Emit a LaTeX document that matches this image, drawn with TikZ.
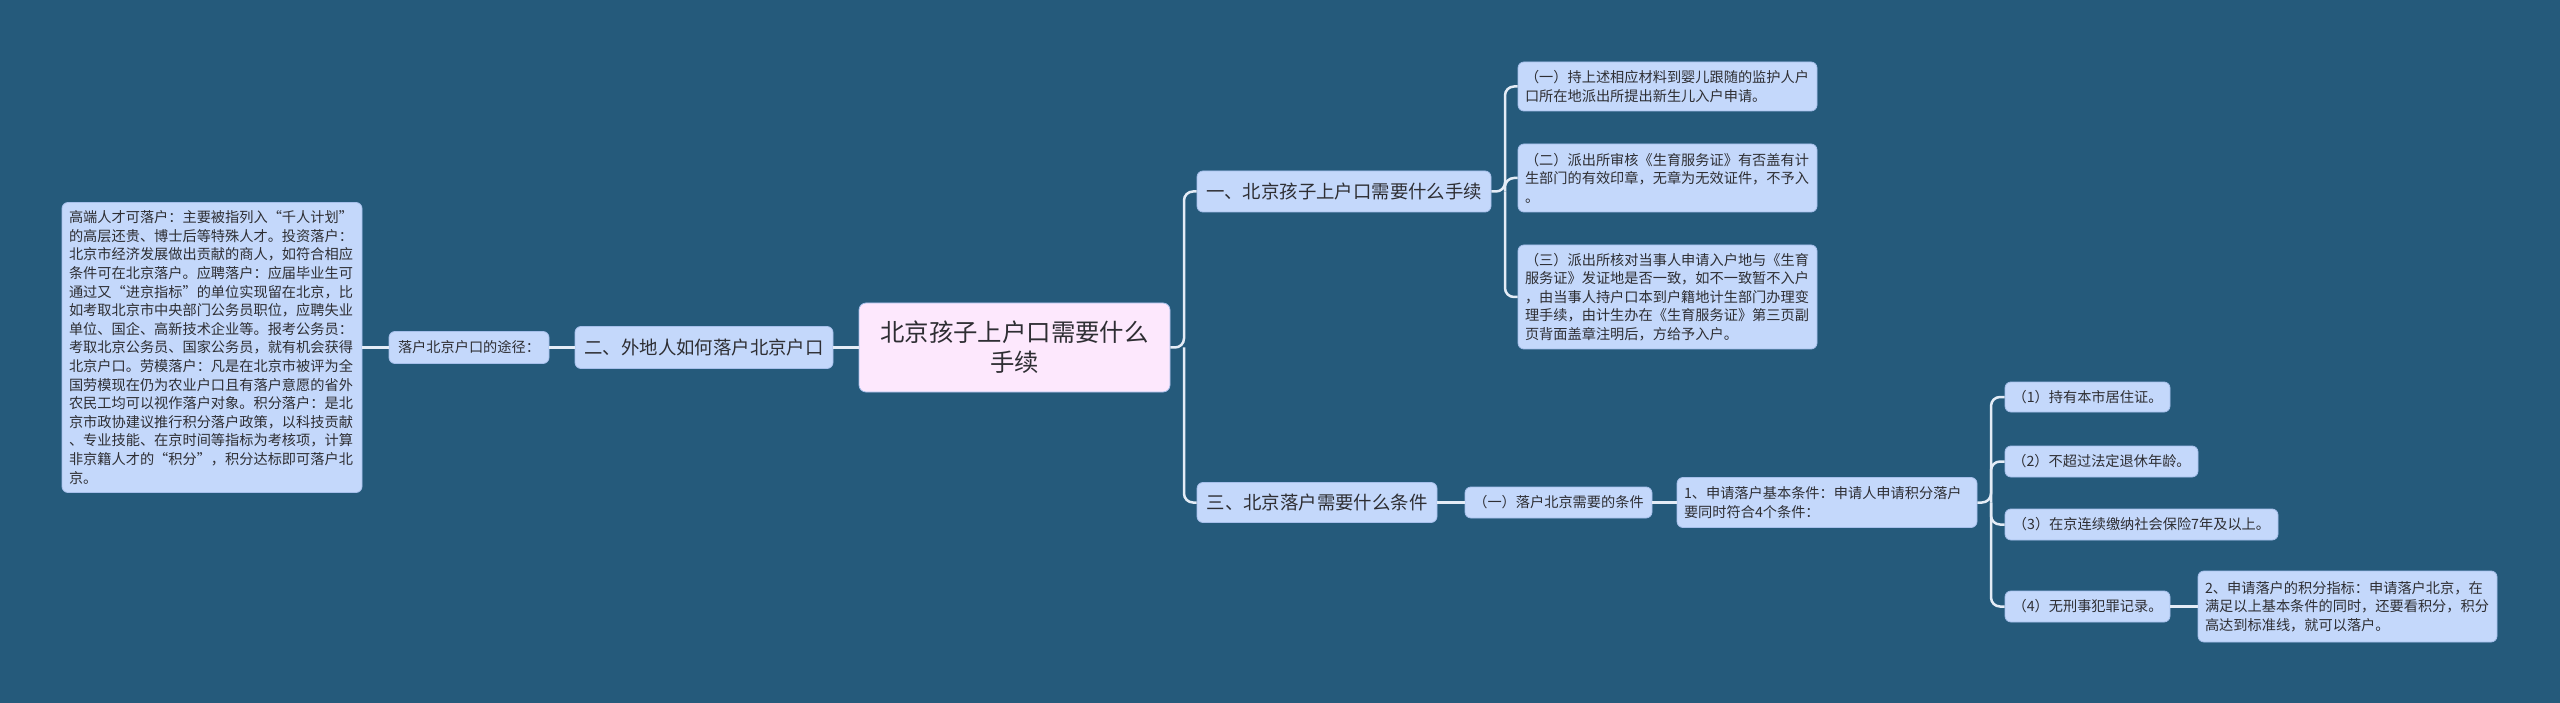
\documentclass[tikz,border=0pt]{standalone}
\usepackage{fontspec}
\setmainfont{Noto Sans CJK SC}
\usepackage{tikz}
\usetikzlibrary{positioning,calc}
\definecolor{canvas}{HTML}{255A7B}
\definecolor{boxblue}{HTML}{C4D8FB}
\definecolor{boxedge}{HTML}{A6BFEA}
\definecolor{rootpink}{HTML}{FDE8FD}
\definecolor{ink}{HTML}{2E2E33}
\definecolor{wire}{HTML}{E4ECF6}
\begin{document}
\begin{tikzpicture}[x=1pt,y=-1pt,
  topic/.style={fill=boxblue,draw=boxedge,line width=0.8pt,rounded corners=6pt,text=ink,inner sep=0pt,
    font=\fontsize{18.4}{22}\selectfont},
  leaf/.style={fill=boxblue,draw=boxedge,line width=0.8pt,rounded corners=6pt,text=ink,inner xsep=7pt,inner ysep=5pt,
    align=left,font=\fontsize{14.2}{18.6}\selectfont},
  link/.style={draw=wire,line width=2.5pt,rounded corners=9pt}]
  \fill[canvas] (0,0) rectangle (2560,703);
  \useasboundingbox (0,0) rectangle (2560,703);
  \node[fill=rootpink,draw=boxedge,line width=0.8pt,rounded corners=7pt,text=ink,align=center,text width=285pt,
    minimum width=311pt,minimum height=89pt,font=\fontsize{24.4}{30}\selectfont] (root) at (1014.5,347.5)
    {北京孩子上户口需要什么\\手续};
  \node[topic,minimum width=258pt,minimum height=42pt] (two) at (704,347.5) {二、外地人如何落户北京户口};
  \node[leaf,minimum width=160pt,minimum height=32pt,align=center] (way) at (469,347.5) {落户北京户口的途径：};
  \node[leaf,text width=286pt,minimum height=290pt] (big) at (212,347.5)
    {高端人才可落户：主要被指列入“千人计划”\\的高层还贵、博士后等特殊人才。投资落户：\\
     北京市经济发展做出贡献的商人，如符合相应\\条件可在北京落户。应聘落户：应届毕业生可\\
     通过又“进京指标”的单位实现留在北京，比\\如考取北京市中央部门公务员职位，应聘失业\\
     单位、国企、高新技术企业等。报考公务员：\\考取北京公务员、国家公务员，就有机会获得\\
     北京户口。劳模落户：凡是在北京市被评为全\\国劳模现在仍为农业户口且有落户意愿的省外\\
     农民工均可以视作落户对象。积分落户：是北\\京市政协建议推行积分落户政策，以科技贡献\\
     、专业技能、在京时间等指标为考核项，计算\\非京籍人才的“积分”，积分达标即可落户北\\京。};
  \node[topic,minimum width=294pt,minimum height=41pt] (one) at (1344,191.5) {一、北京孩子上户口需要什么手续};
  \node[leaf,text width=285pt,minimum height=49pt] (c1) at (1667.5,86.5)
    {（一）持上述相应材料到婴儿跟随的监护人户\\口所在地派出所提出新生儿入户申请。};
  \node[leaf,text width=285pt,minimum height=68pt] (c2) at (1667.5,178)
    {（二）派出所审核《生育服务证》有否盖有计\\生部门的有效印章，无章为无效证件，不予入\\。};
  \node[leaf,text width=285pt,minimum height=104pt] (c3) at (1667.5,297)
    {（三）派出所核对当事人申请入户地与《生育\\服务证》发证地是否一致，如不一致暂不入户\\，由当事人持户口本到户籍地计生部门办理变\\
     理手续，由计生办在《生育服务证》第三页副\\页背面盖章注明后，方给予入户。};
  \node[topic,minimum width=240pt,minimum height=40pt] (three) at (1317,502.5) {三、北京落户需要什么条件};
  \node[leaf,minimum width=187pt,minimum height=31pt,align=center] (cond) at (1558.5,502.5) {（一）落户北京需要的条件};
  \node[leaf,text width=286pt,minimum height=50pt] (basic) at (1827,502.5)
    {1、申请落户基本条件：申请人申请积分落户\\要同时符合4个条件：};
  \node[leaf,minimum width=165pt,minimum height=30pt,align=center] (r1) at (2087.5,397) {（1）持有本市居住证。};
  \node[leaf,minimum width=193pt,minimum height=31pt,align=center] (r2) at (2101.5,461.5) {（2）不超过法定退休年龄。};
  \node[leaf,minimum width=273pt,minimum height=31pt,align=center] (r3) at (2141.5,524.5) {（3）在京连续缴纳社会保险7年及以上。};
  \node[leaf,minimum width=165pt,minimum height=31pt,align=center] (r4) at (2087.5,606.5) {（4）无刑事犯罪记录。};
  \node[leaf,text width=285pt,minimum height=71pt] (score) at (2347.5,606.5)
    {2、申请落户的积分指标：申请落户北京，在\\满足以上基本条件的同时，还要看积分，积分\\高达到标准线，就可以落户。};
  \coordinate (rtrunk) at (1184,347.5);
  \coordinate (otrunk) at (1505,191.5);
  \coordinate (btrunk) at (1991,502.5);
  \draw[link] (root.west) -- (two.east);
  \draw[link] (two.west) -- (way.east);
  \draw[link] (way.west) -- (big.east);
  \draw[link] (root.east) -- (rtrunk) |- (one.west);
  \draw[link] (rtrunk) |- (three.west);
  \draw[link] (one.east) -- (otrunk) |- (c1.west);
  \draw[link] (otrunk) |- (c2.west);
  \draw[link] (otrunk) |- (c3.west);
  \draw[link] (three.east) -- (cond.west);
  \draw[link] (cond.east) -- (basic.west);
  \draw[link] (basic.east) -- (btrunk) |- (r1.west);
  \draw[link] (btrunk) |- (r2.west);
  \draw[link] (btrunk) |- (r3.west);
  \draw[link] (btrunk) |- (r4.west);
  \draw[link] (r4.east) -- (score.west);
\end{tikzpicture}
\end{document}
